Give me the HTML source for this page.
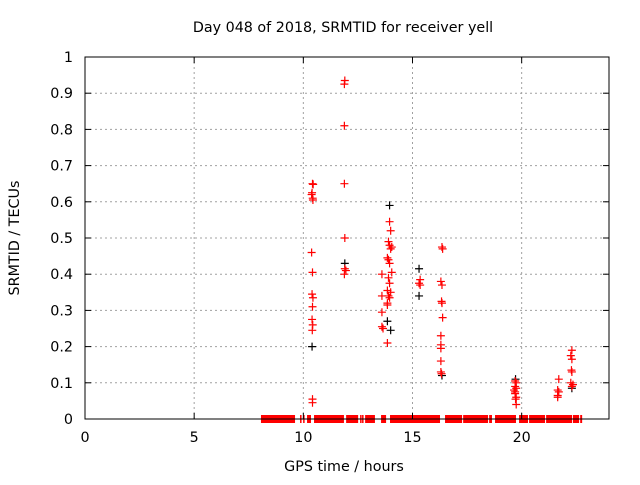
<!DOCTYPE html>
<html><head><meta charset="utf-8"><style>
body{margin:0;background:#fff;}
svg text{font-family:"DejaVu Sans","Liberation Sans",sans-serif;font-size:14.3px;fill:#000;}
</style></head><body>
<svg id="chart" width="640" height="480" xmlns="http://www.w3.org/2000/svg">
<rect width="640" height="480" fill="#fff"/>
<text x="343" y="32" text-anchor="middle">Day 048 of 2018, SRMTID for receiver yell</text>
<text transform="translate(19,238) rotate(-90)" text-anchor="middle">SRMTID / TECUs</text>
<text x="344" y="471" text-anchor="middle">GPS time / hours</text>
<g id="grid"></g>
<g id="marks"></g>
<rect x="85" y="57" width="524" height="362" fill="none" stroke="#000" stroke-width="1"/>
<g id="ticks"></g>
</svg>
<script>
const xTicks=[0,5,10,15,20];
const yTicks=[0,0.1,0.2,0.3,0.4,0.5,0.6,0.7,0.8,0.9,1];
const yTickLabels=["0","0.1","0.2","0.3","0.4","0.5","0.6","0.7","0.8","0.9","1"];
const redTimes=[10.42,10.45,10.4,10.38,10.43,10.44,10.38,10.42,10.4,10.44,10.42,10.4,10.43,10.41,10.42,10.42,
11.9,11.88,11.88,11.88,11.9,11.9,11.95,11.88,
13.95,14.0,13.9,13.95,14.05,14.0,13.85,13.9,13.95,14.05,13.6,13.9,13.95,13.85,14.0,13.9,13.6,13.95,13.85,13.6,13.85,13.6,13.65,13.85,
15.35,15.3,15.35,
16.35,16.38,16.3,16.35,16.33,16.35,16.38,16.3,16.3,16.3,16.3,16.3,16.33,
19.7,19.75,19.7,19.75,19.65,19.7,19.7,19.75,19.72,19.75,
21.7,21.65,21.7,21.65,21.65,
22.3,22.25,22.3,22.28,22.3,22.25,22.35,22.3];
const redValues=[0.65,0.648,0.625,0.62,0.61,0.605,0.46,0.405,0.345,0.335,0.31,0.275,0.26,0.245,0.055,0.045,
0.935,0.925,0.81,0.65,0.5,0.415,0.41,0.4,
0.545,0.52,0.49,0.48,0.475,0.47,0.445,0.44,0.43,0.405,0.4,0.39,0.375,0.355,0.35,0.34,0.34,0.335,0.32,0.295,0.315,0.255,0.25,0.21,
0.385,0.375,0.37,
0.475,0.47,0.38,0.37,0.325,0.32,0.28,0.23,0.205,0.195,0.16,0.13,0.125,
0.105,0.1,0.09,0.085,0.08,0.075,0.07,0.06,0.055,0.04,
0.11,0.08,0.075,0.065,0.06,
0.19,0.175,0.165,0.135,0.13,0.1,0.095,0.09];
const blackTimes=[10.4,11.9,13.95,13.85,14.0,15.3,15.3,16.35,19.72,22.3];
const blackValues=[0.2,0.43,0.59,0.27,0.245,0.415,0.34,0.12,0.11,0.085];
const zeroSegments=[[8.06,9.62],[9.85,9.86],[9.99,10.0],[10.17,10.35],[10.49,11.86],[11.96,12.51],[12.6,12.61],[12.69,12.7],[12.83,13.28],[13.56,13.79],[13.97,16.26],[16.49,17.27],[17.32,18.46],[18.51,18.64],[18.78,19.74],[19.88,20.29],[20.34,21.07],[21.12,22.31],[22.35,22.63],[22.68,22.77]];
const X0=85,X1=609,Y0=419,Y1=57,XMAX=24;
const sx=v=>X0+v/XMAX*(X1-X0), sy=v=>Y0-v*(Y0-Y1);
const NS="http://www.w3.org/2000/svg";
function mk(tag,attrs,parent){const e=document.createElementNS(NS,tag);for(const k in attrs)e.setAttribute(k,attrs[k]);parent.appendChild(e);return e;}
const grid=document.getElementById('grid'),ticks=document.getElementById('ticks'),marks=document.getElementById('marks');
xTicks.forEach(t=>{const x=sx(t);
 if(t>0){const g=mk('line',{x1:x,x2:x,y1:Y1,y2:Y0,stroke:'#a0a0a0','stroke-dasharray':'2,3'},grid);}
 const a=mk('line',{x1:x,x2:x,y1:Y0,y2:Y0-6,stroke:'#000'},ticks);
 const b=mk('line',{x1:x,x2:x,y1:Y1,y2:Y1+6,stroke:'#000'},ticks);
 const l=mk('text',{x:x,y:442,'text-anchor':'middle'},ticks);l.textContent=String(t);});
yTicks.forEach((t,i)=>{const y=sy(t);
 if(t>0&&t<1){const g=mk('line',{x1:X0,x2:X1,y1:y,y2:y,stroke:'#a0a0a0','stroke-dasharray':'2,3'},grid);}
 const a=mk('line',{x1:X0,x2:X0+6,y1:y,y2:y,stroke:'#000'},ticks);
 const b=mk('line',{x1:X1,x2:X1-6,y1:y,y2:y,stroke:'#000'},ticks);
 const l=mk('text',{x:73,y:y+5,'text-anchor':'end'},ticks);l.textContent=yTickLabels[i];});
function plus(x,y,c,name){const p=mk('path',{d:`M${x-4},${y}h8M${x},${y-4}v8`,stroke:c,'stroke-width':1.2,fill:'none'},marks);}
zeroSegments.forEach(s=>{const r=mk('rect',{x:sx(s[0]),y:Y0-4,width:Math.max(1.5,sx(s[1])-sx(s[0])),height:8,fill:'#f00'},marks);});
blackTimes.forEach((t,i)=>plus(sx(t),sy(blackValues[i]),'#000','black-point'));
redTimes.forEach((t,i)=>plus(sx(t),sy(redValues[i]),'#f00','red-point'));
</script>
</body></html>
